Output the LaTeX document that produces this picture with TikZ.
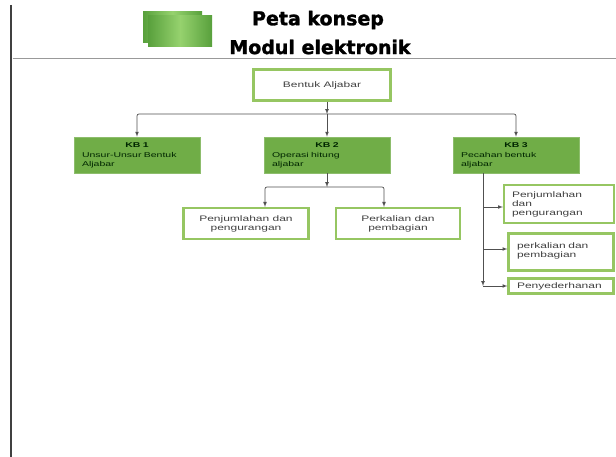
\documentclass[tikz,border=0pt]{standalone}
\usepackage{fontspec}
\setmainfont{Liberation Sans}
\newfontfamily\boxfont[FakeStretch=1.5]{Liberation Sans}
\newfontfamily\titlefont[FakeBold=1.5]{DejaVu Sans}
\usetikzlibrary{arrows,positioning}
\definecolor{kbgreen}{RGB}{112,173,71}
\definecolor{rimgreen}{RGB}{150,198,98}
\definecolor{linegray}{RGB}{80,80,80}
\definecolor{decodark}{RGB}{88,160,60}
\definecolor{decolight}{RGB}{150,210,110}

\begin{document}
\begin{tikzpicture}[x=1pt,y=-1pt]
\tikzstyle{kb}=[rectangle, fill=kbgreen, draw=kbgreen!80!white, line width=0.6pt, minimum width=126pt, minimum height=36pt, inner sep=0pt, text width=110pt, align=left, text=black!85!green, font=\boxfont\fontsize{7}{8.5}\selectfont]
\tikzstyle{topic}=[rectangle, fill=white, draw=rimgreen, line width=2.2pt, inner sep=0pt, text=black!75, font=\boxfont\fontsize{8}{9}\selectfont]
\tikzstyle{connect}=[-latex, linegray, line width=0.7pt, rounded corners=2pt]
\tikzstyle{title}=[font=\titlefont\bfseries\fontsize{19}{21}\selectfont]

\useasboundingbox (0,0) rectangle (616,457);
\fill[white] (0,0) rectangle (616,457);
\draw[black!75, line width=2.5pt] (11,5) -- (11,457);
\draw[black!40, line width=0.8pt] (12.5,58) -- (616,58);

% header
\fill[left color=decodark, right color=decodark, middle color=decolight] (143,12) rectangle (202,43);
\fill[left color=decodark, right color=decodark, middle color=decolight] (148,16) rectangle (212,47);
\node[title] (peta) at (318,20) {Peta konsep};
\node[title] (modul) at (320,47) {Modul elektronik};

\node[topic, minimum width=137pt, minimum height=31pt] (top) at (322,85) {Bentuk Aljabar};

\node[kb] (kb1) at (137,155) {\makebox[110pt][c]{\textbf{KB 1}}\\[2pt]Unsur-Unsur Bentuk\\Aljabar};
\node[kb] (kb2) at (327,155) {\makebox[110pt][c]{\textbf{KB 2}}\\[2pt]Operasi hitung\\aljabar};
\node[kb] (kb3) at (516,155) {\makebox[110pt][c]{\textbf{KB 3}}\\[2pt]Pecahan bentuk\\aljabar};

\node[topic, minimum width=125pt, minimum height=31pt, align=center] (a1) at (246,223.5) {Penjumlahan dan\\pengurangan};
\node[topic, minimum width=124pt, minimum height=31pt, align=center] (a2) at (398,223.5) {Perkalian dan\\pembagian};

\node[topic, minimum width=110pt, minimum height=38pt, text width=94pt, align=left] (c1) at (559,204) {Penjumlahan\\dan\\pengurangan};
\node[topic, minimum width=105pt, minimum height=37pt, text width=88pt, align=left, anchor=north] (c2) at (561,232.5) {\\[-6pt]perkalian dan\\pembagian};
\node[topic, minimum width=105pt, minimum height=15pt, text width=88pt, align=left] (c3) at (561,286) {Penyederhanan};

\coordinate (j0) at (327,114);
\coordinate (j1) at (327,187);
\coordinate (t1) at (265,187);
\coordinate (t2) at (384,187);
\coordinate (k3) at (483,286);

\draw[connect] (top.south -| j0) -- (j0);
\draw[connect] (j0) -| (kb1);
\draw[connect] (j0) -| (kb3);
\draw[connect] (j0) -- (kb2);

\draw[connect] (kb2) -- (j1);
\draw[connect] (j1) -- (t1) -- (t1 |- a1.north);
\draw[connect] (j1) -- (t2) -- (t2 |- a2.north);

\draw[connect] (kb3.south -| k3) -- (k3);
\draw[connect] (k3 |- 0,207) -- (c1.west |- 0,207);
\draw[connect] (k3 |- 0,249) -- (c2.west |- 0,249);
\draw[connect] (k3) -- (c3.west |- k3);
\end{tikzpicture}
\end{document}
